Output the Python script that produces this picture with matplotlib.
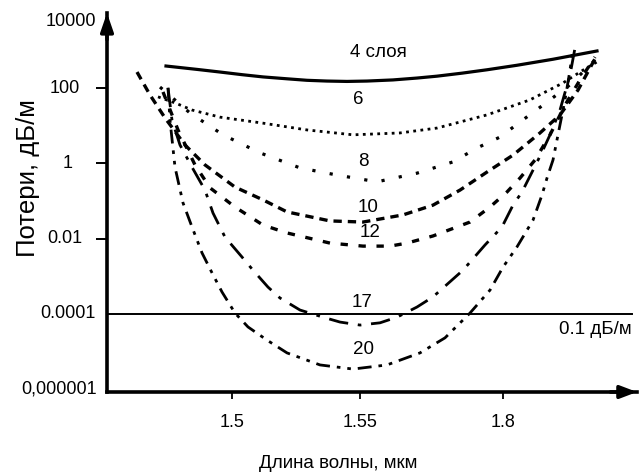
import numpy as np
import matplotlib
matplotlib.use("Agg")
import matplotlib.pyplot as plt
from matplotlib.transforms import blended_transform_factory

plt.rcParams['font.family'] = ['Liberation Sans', 'DejaVu Sans']

# Position along the (schematic, non-uniform) wavelength axis
tick_pos = [125, 253, 396]
tick_labels = ['1.5', '1.55', '1.8']

# Loss tick values (dB/m) and their labels
ytick_vals = [1e4, 1e2, 1, 1e-2, 1e-4, 1e-6]
ytick_text = ['10000', '100', '1', '0.01', '0.0001', '0,000001']

# Loss curves: axis position and log10(loss, dB/m) for each number of layers
x4 = [59, 90, 113, 135, 156, 180, 200, 220, 240, 260, 286, 310, 330, 355, 380, 410, 446,
      470, 490]
e4 = [2.59, 2.50, 2.43, 2.36, 2.30, 2.25, 2.21, 2.19, 2.18, 2.19, 2.22, 2.27, 2.32, 2.40,
      2.49, 2.61, 2.77, 2.89, 2.99]

x6 = [51, 68, 85, 113, 156, 200, 246, 293, 330, 380, 423, 456, 476, 490]
e6 = [1.77, 1.61, 1.42, 1.23, 1.07, 0.89, 0.76, 0.81, 0.94, 1.29, 1.69, 2.14, 2.48, 2.70]

x8 = [53, 83, 95, 116, 153, 193, 230, 270, 310, 346, 370, 393, 413, 436, 463, 488]
e8 = [2.03, 1.34, 1.13, 0.76, 0.28, -0.12, -0.31, -0.49, -0.26, 0.04, 0.41, 0.70, 1.10,
      1.55, 2.09, 2.75]

x10 = [30, 43, 58, 78, 98, 128, 156, 180, 223, 256, 296, 326, 353, 380, 406, 433, 453,
       471, 490]
e10 = [2.43, 1.82, 1.21, 0.49, -0.04, -0.63, -0.97, -1.29, -1.53, -1.56, -1.37, -1.11,
       -0.71, -0.23, 0.22, 0.81, 1.29, 1.95, 2.88]

x12 = [56, 71, 88, 103, 128, 156, 180, 223, 256, 283, 300, 326, 363, 383, 400, 413, 428,
       443, 458, 473, 488]
e12 = [1.90, 0.89, -0.04, -0.65, -1.16, -1.64, -1.85, -2.12, -2.20, -2.20, -2.12, -1.93,
       -1.56, -1.16, -0.76, -0.39, 0.09, 0.76, 1.55, 2.22, 2.83]

x17 = [61, 65, 73, 85, 98, 106, 118, 135, 146, 161, 173, 193, 216, 233, 253, 273, 290,
       310, 326, 356, 378, 395, 406, 415, 426, 435, 443, 453, 463, 468]
e17 = [2.01, 1.15, 0.49, -0.10, -0.71, -1.32, -1.96, -2.49, -2.84, -3.29, -3.58, -3.90,
       -4.09, -4.22, -4.30, -4.24, -4.09, -3.82, -3.55, -2.84, -2.17, -1.69, -1.11, -0.76,
       -0.18, 0.30, 0.76, 1.42, 2.35, 3.07]

x20 = [61, 63, 68, 76, 85, 95, 105, 115, 128, 141, 160, 180, 213, 246, 280, 313, 338,
       363, 383, 396, 410, 426, 435, 440, 446, 451, 458, 463, 466]
e20 = [2.01, 1.15, -0.10, -1.05, -1.69, -2.38, -2.91, -3.42, -3.98, -4.35, -4.70, -5.04,
       -5.36, -5.47, -5.36, -5.04, -4.64, -3.98, -3.37, -2.76, -2.22, -1.51, -0.84, -0.39,
       0.09, 0.76, 1.69, 2.48, 3.07]

threshold = 1e-4  # 0.1 dB/m level

fig = plt.figure(figsize=(6.39, 4.75), dpi=100)
ax = fig.add_axes([107 / 639, 83 / 475, 530 / 639, 379 / 475])
ax.set_yscale('log')
ax.set_xlim(0, 530)
ax.set_ylim(10 ** -6.08, 1e4)

k = 'black'
ax.plot(x4, 10.0 ** np.array(e4), color=k, lw=2.3, ls='-')
ax.plot(x6, 10.0 ** np.array(e6), color=k, lw=2.0, ls=(0, (1, 1.6)))
ax.plot(x8, 10.0 ** np.array(e8), color=k, lw=2.3, ls=(0, (1, 4.5)))
ax.plot(x10, 10.0 ** np.array(e10), color=k, lw=2.4, ls=(0, (2.5, 1.8)))
ax.plot(x12, 10.0 ** np.array(e12), color=k, lw=2.4, ls=(0, (2.2, 3.2)))
ax.plot(x17, 10.0 ** np.array(e17), color=k, lw=2.0, ls=(0, (7, 3.5, 1.3, 3.5)))
ax.plot(x20, 10.0 ** np.array(e20), color=k, lw=2.0,
        ls=(0, (5, 2.5, 1.3, 2.5, 1.3, 2.5)))

ax.axhline(threshold, xmax=525 / 530, color=k, lw=1.4)

# curve annotations
lbl_kw = dict(ha='center', va='center', fontsize=13.5, color=k)
ax.text(271, 10 ** 2.94, '4 слоя', **lbl_kw)
ax.text(251, 10 ** 1.69, '6', **lbl_kw)
ax.text(256, 10 ** 0.04, '8', **lbl_kw)
ax.text(261, 10 ** -1.16, '10', **lbl_kw)
ax.text(263, 10 ** -1.85, '12', **lbl_kw)
ax.text(255, 10 ** -3.71, '17', **lbl_kw)
ax.text(256, 10 ** -4.96, '20', **lbl_kw)
ax.text(525, 10 ** -4.43, '0.1 дБ/м', ha='right', va='center', fontsize=13.5, color=k)

# axes: only left and bottom, with arrowheads
for s in ('top', 'right'):
    ax.spines[s].set_visible(False)
for s in ('left', 'bottom'):
    ax.spines[s].set_linewidth(2.6)
ax.annotate('', xy=(0, 1), xytext=(0, 0.93), xycoords='axes fraction',
            arrowprops=dict(arrowstyle='-|>,head_length=1.1,head_width=0.38',
                            color=k, lw=2.6, shrinkA=0, shrinkB=0))
ax.annotate('', xy=(1, 0), xytext=(0.95, 0), xycoords='axes fraction',
            arrowprops=dict(arrowstyle='-|>,head_length=1.0,head_width=0.38',
                            color=k, lw=2.6, shrinkA=0, shrinkB=0))

ax.set_xticks(tick_pos)
ax.set_xticklabels(tick_labels, fontsize=13)
ax.tick_params(axis='x', direction='out', length=5, width=1.3, pad=11)
ax.set_yticks([1e2, 1, 1e-2])
ax.yaxis.set_minor_locator(matplotlib.ticker.NullLocator())
ax.set_yticklabels([])
ax.tick_params(axis='y', direction='out', length=8, width=1.4)

# y tick labels, placed individually
tr = blended_transform_factory(ax.transAxes, ax.transData)
ylab_x = [71, 65, 68, 65, 68, 59]
for v, t, px in zip(ytick_vals, ytick_text, ylab_x):
    va = 'top' if v == 1e4 else 'center'
    ax.text((px - 107) / 530, v, t, transform=tr, ha='center', va=va, fontsize=13)

fig.text(338 / 639, 1 - 463 / 475, 'Длина волны, мкм', ha='center', va='center',
         fontsize=13.5)
fig.text(28 / 639, 1 - 178 / 475, 'Потери, дБ/м', ha='center', va='center',
         rotation=90, fontsize=18.5)

fig.savefig('out.png', dpi=100, facecolor='white')
